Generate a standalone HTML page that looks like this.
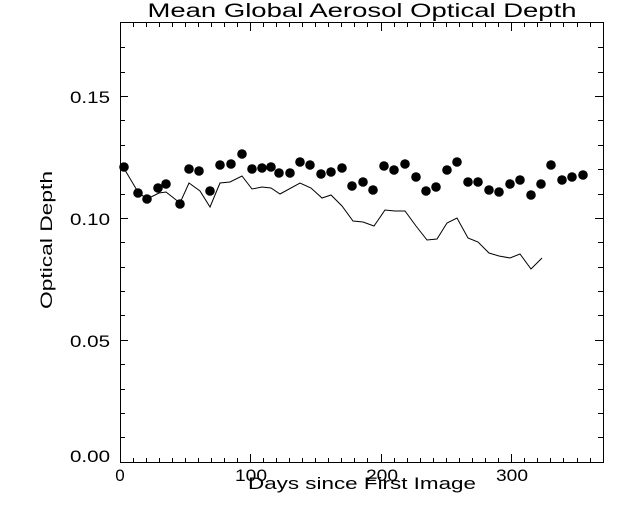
<!DOCTYPE html>
<html><head><meta charset="utf-8"><style>
html,body{margin:0;padding:0;background:#fff;}
svg{display:block;}
text{font-family:"Liberation Sans",sans-serif;fill:#000;}
</style></head><body>
<svg width="640" height="512" viewBox="0 0 640 512" xmlns="http://www.w3.org/2000/svg">
<rect width="640" height="512" fill="#fff"/>
<text x="362" y="17" font-size="19" text-anchor="middle" textLength="429" lengthAdjust="spacingAndGlyphs">Mean Global Aerosol Optical Depth</text>
<rect x="120.5" y="22.5" width="483" height="440" fill="none" stroke="#000" stroke-width="1"/>
<g stroke="#000" stroke-width="1">
<path d="M120 462.5h8M120 340.5h8M120 218.5h8M120 96.5h8M603 462.5h-8M603 340.5h-8M603 218.5h-8M603 96.5h-8"/>
<path d="M120 437.5h5M120 413.5h5M120 389.5h5M120 364.5h5M120 315.5h5M120 291.5h5M120 267.5h5M120 242.5h5M120 194.5h5M120 169.5h5M120 145.5h5M120 120.5h5M120 72.5h5M120 47.5h5
M603 437.5h-5M603 413.5h-5M603 389.5h-5M603 364.5h-5M603 315.5h-5M603 291.5h-5M603 267.5h-5M603 242.5h-5M603 194.5h-5M603 169.5h-5M603 145.5h-5M603 120.5h-5M603 72.5h-5M603 47.5h-5"/>
<path d="M133.5 462v-4M146.5 462v-4M159.5 462v-4M172.5 462v-4M185.5 462v-4M198.5 462v-4M211.5 462v-4M224.5 462v-4M237.5 462v-4M250.5 462v-8M263.5 462v-4M276.5 462v-4M289.5 462v-4M302.5 462v-4M315.5 462v-4M328.5 462v-4M341.5 462v-4M354.5 462v-4M367.5 462v-4M381.5 462v-8M394.5 462v-4M407.5 462v-4M420.5 462v-4M433.5 462v-4M446.5 462v-4M459.5 462v-4M472.5 462v-4M485.5 462v-4M498.5 462v-4M511.5 462v-8M524.5 462v-4M537.5 462v-4M550.5 462v-4M563.5 462v-4M577.5 462v-4M590.5 462v-4
M133.5 23v4M146.5 23v4M159.5 23v4M172.5 23v4M185.5 23v4M198.5 23v4M211.5 23v4M224.5 23v4M237.5 23v4M250.5 23v8M263.5 23v4M276.5 23v4M289.5 23v4M302.5 23v4M315.5 23v4M328.5 23v4M341.5 23v4M354.5 23v4M367.5 23v4M381.5 23v8M394.5 23v4M407.5 23v4M420.5 23v4M433.5 23v4M446.5 23v4M459.5 23v4M472.5 23v4M485.5 23v4M498.5 23v4M511.5 23v8M524.5 23v4M537.5 23v4M550.5 23v4M563.5 23v4M577.5 23v4M590.5 23v4"/>
</g>
<text x="110" y="103" font-size="17" text-anchor="end" textLength="40" lengthAdjust="spacingAndGlyphs">0.15</text>
<text x="110" y="225" font-size="17" text-anchor="end" textLength="40" lengthAdjust="spacingAndGlyphs">0.10</text>
<text x="110" y="347" font-size="17" text-anchor="end" textLength="40" lengthAdjust="spacingAndGlyphs">0.05</text>
<text x="110" y="462" font-size="17" text-anchor="end" textLength="40" lengthAdjust="spacingAndGlyphs">0.00</text>
<text x="120" y="481" font-size="17" text-anchor="middle">0</text>
<text x="251" y="481" font-size="17" text-anchor="middle" textLength="32" lengthAdjust="spacingAndGlyphs">100</text>
<text x="382" y="481" font-size="17" text-anchor="middle" textLength="32" lengthAdjust="spacingAndGlyphs">200</text>
<text x="512" y="481" font-size="17" text-anchor="middle" textLength="32" lengthAdjust="spacingAndGlyphs">300</text>
<text x="362" y="489" font-size="17" text-anchor="middle" textLength="228" lengthAdjust="spacingAndGlyphs">Days since First Image</text>
<text transform="translate(52,240) rotate(-90)" font-size="17" text-anchor="middle" textLength="138" lengthAdjust="spacingAndGlyphs">Optical Depth</text>
<polyline fill="none" stroke="#000" stroke-width="1" points="122,165 138,192 147,199 159,193 166,192 180,203 189,183 200,191 210,207 220,183 230,182 242,176 252,189 262,187 271,188 280,194 300,183 311,188 322,198 331,195 342,206 353,221 363,222 374,226 385,210 395,211 405,211 416,226 427,240 437,239 447,223 457,218 468,238 478,242 489,253 499,256 510,258 520,254 531,269 542,258"/>
<g fill="#000">
<circle cx="124" cy="167" r="4.8"/><circle cx="138" cy="193" r="4.8"/><circle cx="147" cy="199" r="4.8"/><circle cx="158" cy="188" r="4.8"/><circle cx="166" cy="184" r="4.8"/><circle cx="180" cy="204" r="4.8"/><circle cx="189" cy="169" r="4.8"/><circle cx="199" cy="171" r="4.8"/><circle cx="210" cy="191" r="4.8"/><circle cx="220" cy="165" r="4.8"/><circle cx="231" cy="164" r="4.8"/><circle cx="242" cy="154" r="4.8"/><circle cx="252" cy="169" r="4.8"/><circle cx="262" cy="168" r="4.8"/><circle cx="271" cy="167" r="4.8"/><circle cx="279" cy="173" r="4.8"/><circle cx="290" cy="173" r="4.8"/><circle cx="300" cy="162" r="4.8"/><circle cx="310" cy="165" r="4.8"/><circle cx="321" cy="174" r="4.8"/><circle cx="331" cy="172" r="4.8"/><circle cx="342" cy="168" r="4.8"/><circle cx="352" cy="186" r="4.8"/><circle cx="363" cy="182" r="4.8"/><circle cx="373" cy="190" r="4.8"/><circle cx="384" cy="166" r="4.8"/><circle cx="394" cy="170" r="4.8"/><circle cx="405" cy="164" r="4.8"/><circle cx="416" cy="177" r="4.8"/><circle cx="426" cy="191" r="4.8"/><circle cx="436" cy="187" r="4.8"/><circle cx="447" cy="170" r="4.8"/><circle cx="457" cy="162" r="4.8"/><circle cx="468" cy="182" r="4.8"/><circle cx="478" cy="182" r="4.8"/><circle cx="489" cy="190" r="4.8"/><circle cx="499" cy="192" r="4.8"/><circle cx="510" cy="184" r="4.8"/><circle cx="520" cy="180" r="4.8"/><circle cx="531" cy="195" r="4.8"/><circle cx="541" cy="184" r="4.8"/><circle cx="551" cy="165" r="4.8"/><circle cx="562" cy="180" r="4.8"/><circle cx="572" cy="177" r="4.8"/><circle cx="583" cy="175" r="4.8"/>
</g>
</svg>
</body></html>
